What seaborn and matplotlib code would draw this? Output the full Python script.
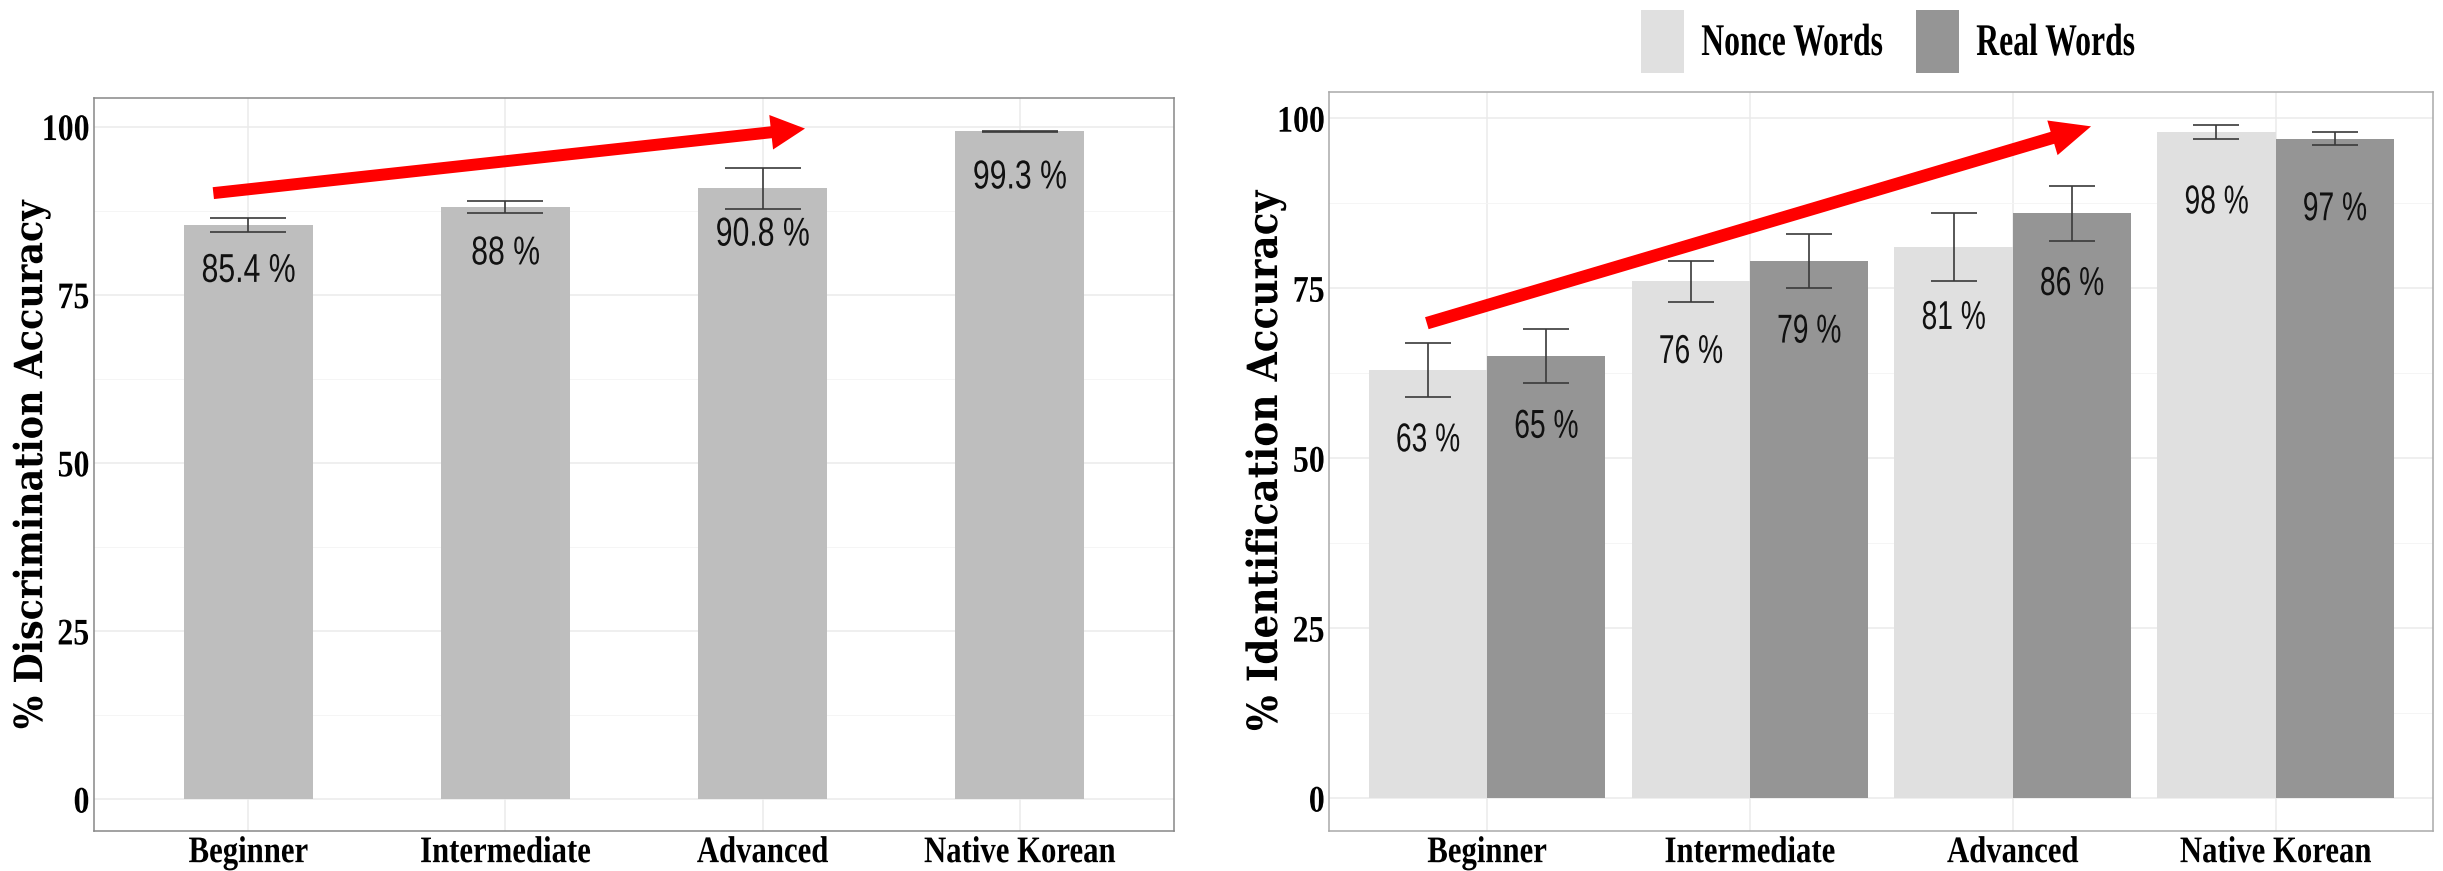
import matplotlib
matplotlib.use("Agg")
import matplotlib.pyplot as plt
import matplotlib.patheffects as pe
from matplotlib.transforms import Affine2D
from matplotlib.patches import Rectangle
from matplotlib.ticker import MultipleLocator
import pandas as pd
import seaborn as sns

# ---------------------------------------------------------------- data
levels = ["Beginner", "Intermediate", "Advanced", "Native Korean"]

disc_acc = [85.4, 88.0, 90.8, 99.3]
disc_se = [1.05, 0.9, 3.0, 0.05]

word_types = ["Nonce Words", "Real Words"]
ident_nonce = [63, 76, 81, 98]
ident_nonce_se = [4, 3, 5, 1]
ident_real = [65, 79, 86, 97]
ident_real_se = [4, 4, 4, 1]

y_ticks = [0, 25, 50, 75, 100]

# ---------------------------------------------------------------- style
W, H, DPI = 2443, 871, 100
SERIF = "Liberation Serif"
TITLE_SERIF = "DejaVu Serif"
SANS = "Liberation Sans"
DISC_GREY = "#BEBEBE"
WORD_PALETTE = ["#E0E0E0", "#959595"]
ERR_COLOR = "#3A3A3A"
TREND_RED = "#FF0000"

sns.set_style("white")
plt.rcParams["font.family"] = [SERIF, "DejaVu Serif"]


class Condensed(pe.AbstractPathEffect):
    """Draw text horizontally condensed around a fixed anchor."""

    def __init__(self, factor, anchor="center"):
        super().__init__()
        self.factor = factor
        self.anchor = anchor

    def draw_path(self, renderer, gc, tpath, affine, rgbFace=None):
        ext = tpath.get_extents()
        if self.anchor == "left":
            ref = ext.x0
        elif self.anchor == "right":
            ref = ext.x1
        else:
            ref = 0.5 * (ext.x0 + ext.x1)
        squeeze = Affine2D().translate(-ref, 0).scale(self.factor, 1).translate(ref, 0)
        renderer.draw_path(gc, tpath, squeeze + affine, rgbFace)


def style_axes(ax, frame_color):
    ax.set_xlim(-0.6, 3.6)
    ax.set_yticks(y_ticks)
    ax.set_yticklabels([str(t) for t in y_ticks])
    ax.yaxis.set_minor_locator(MultipleLocator(12.5))
    ax.set_axisbelow(True)
    ax.grid(True, which="major", color="#EBEBEB", linewidth=1.1)
    ax.yaxis.grid(True, which="minor", color="#F4F4F4", linewidth=0.6)
    ax.tick_params(axis="both", which="major", length=2.2, width=0.8,
                   color="#333333", pad=1, labelsize=27, labelcolor="black")
    ax.tick_params(which="minor", length=0)
    for s in ax.spines.values():
        s.set_visible(True)
        s.set_color(frame_color)
        s.set_linewidth(1.1)
    ax.set_xlabel("")
    for lab in ax.get_xticklabels():
        lab.set_fontweight("bold")
        lab.set_path_effects([Condensed(0.82)])
    for lab in ax.get_yticklabels():
        lab.set_fontweight("bold")
        lab.set_path_effects([Condensed(0.85, "right")])


def axis_title(ax, text, size, x_frac):
    ax.set_ylabel(text, fontsize=size, fontweight="bold", va="center",
                  family=[TITLE_SERIF], color="black")
    ax.yaxis.label.set_path_effects([Condensed(0.9)])
    ax.yaxis.set_label_coords(x_frac, 0.5)


def annotate_bars(ax, bars, errs, cap_pt, drop, squeeze):
    xs = [b.get_x() + b.get_width() / 2 for b in bars]
    ys = [b.get_height() for b in bars]
    ax.errorbar(xs, ys, yerr=errs, fmt="none", ecolor=ERR_COLOR,
                elinewidth=1.2, capsize=cap_pt, capthick=1.2, zorder=3)
    for x, v in zip(xs, ys):
        ax.text(x, v - drop, f"{v:g} %", ha="center", va="baseline",
                fontsize=29, family=SANS, color="#111111", zorder=4,
                path_effects=[Condensed(squeeze)])


def trend_arrow(ax, tail, tip, tail_w, head_w, head_l):
    ax.annotate("", xy=tip, xytext=tail, zorder=6,
                arrowprops=dict(arrowstyle=f"simple,head_length={head_l},"
                                           f"head_width={head_w},tail_width={tail_w}",
                                mutation_scale=1, color=TREND_RED, lw=0,
                                shrinkA=0, shrinkB=0))


fig = plt.figure(figsize=(W / DPI, H / DPI), dpi=DPI)
fig.patch.set_facecolor("white")
ax1 = fig.add_axes([94 / W, 40.3 / H, 1080 / W, 732.4 / H])
ax2 = fig.add_axes([1329.3 / W, 40.3 / H, 1104 / W, 739 / H])

# ---------------------------------------------------------------- discrimination
disc_df = pd.DataFrame({"level": levels, "accuracy": disc_acc})
sns.barplot(data=disc_df, x="level", y="accuracy", order=levels, color=DISC_GREY,
            width=0.5, saturation=1, errorbar=None, linewidth=0, ax=ax1)
style_axes(ax1, "#888888")
ax1.set_ylim(-4.7, 104.2)
annotate_bars(ax1, ax1.containers[0], disc_se, cap_pt=27.7, drop=8.5, squeeze=0.75)
trend_arrow(ax1, (-0.136, 90.1), (2.165, 99.7), tail_w=8.6, head_w=25, head_l=24.5)
axis_title(ax1, "% Discrimination Accuracy", 28, -0.058)

# ---------------------------------------------------------------- identification
ident_df = pd.DataFrame({
    "level": levels * 2,
    "type": [word_types[0]] * len(levels) + [word_types[1]] * len(levels),
    "accuracy": ident_nonce + ident_real,
})
sns.barplot(data=ident_df, x="level", y="accuracy", hue="type", order=levels,
            hue_order=word_types, palette=WORD_PALETTE, width=0.9, gap=0,
            saturation=1, errorbar=None, linewidth=0, legend=False, ax=ax2)
style_axes(ax2, "#AAAAAA")
ax2.set_ylim(-4.8, 103.9)
for bars, errs in zip(ax2.containers, [ident_nonce_se, ident_real_se]):
    annotate_bars(ax2, bars, errs, cap_pt=16.6, drop=12.0, squeeze=0.7)
trend_arrow(ax2, (-0.229, 69.85), (2.298, 98.8), tail_w=9, head_w=26, head_l=29)
axis_title(ax2, "% Identification Accuracy", 30, -0.058)

# ---------------------------------------------------------------- legend
for x_px, name, colr in zip([1641, 1916], word_types, WORD_PALETTE):
    fig.patches.append(Rectangle((x_px / W, 1 - 72.7 / H), 43 / W, 62.7 / H,
                                 transform=fig.transFigure, facecolor=colr,
                                 edgecolor="none"))
    fig.text((x_px + 60) / W, 1 - 55 / H, name, fontsize=32.6, fontweight="bold",
             ha="left", va="baseline", color="black",
             path_effects=[Condensed(0.70, "left")])

fig.savefig("out.png", dpi=DPI, facecolor="white")
